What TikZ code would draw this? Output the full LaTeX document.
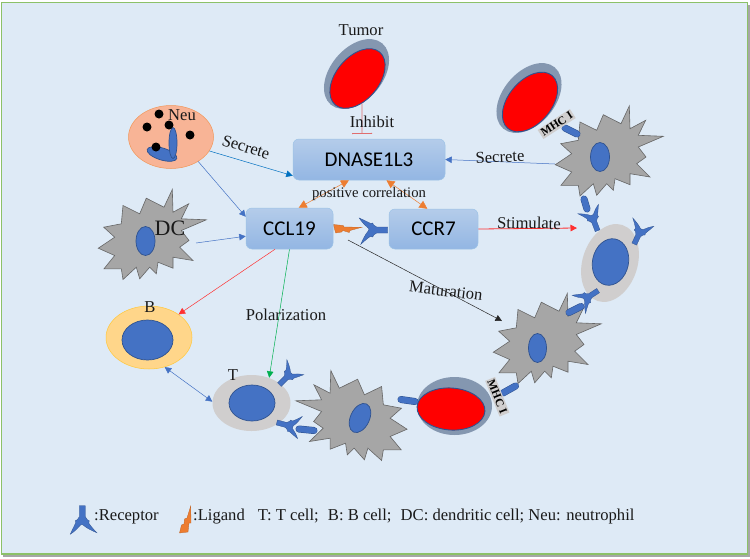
\documentclass[tikz,border=0pt]{standalone}
\usepackage{fontspec}
\setmainfont{Liberation Serif}
\newfontfamily\boxfont{Carlito}
\usetikzlibrary{arrows.meta,shapes.geometric}
\definecolor{bgblue}{HTML}{DEEAF6}
\definecolor{framegreen}{HTML}{8CC168}
\definecolor{nucblue}{HTML}{4472C4}
\definecolor{nucedge}{HTML}{2F528F}
\definecolor{cellgray}{HTML}{A6A6A6}
\definecolor{paleGray}{HTML}{D0CECE}
\definecolor{tumorshell}{HTML}{8497B0}
\definecolor{ligand}{HTML}{ED7D31}
\definecolor{boxtop}{HTML}{B4CCEA}
\definecolor{boxbot}{HTML}{93B6E3}
\definecolor{boxedge}{HTML}{9DC3E6}
\definecolor{neufill}{HTML}{F8B496}
\definecolor{bfill}{HTML}{FFD68A}
\definecolor{bedge}{HTML}{FFC83C}
\definecolor{secblue}{HTML}{0070C0}
\definecolor{arrowgreen}{HTML}{00B050}
\definecolor{inhibitred}{HTML}{E06E6E}
\definecolor{arrowred}{HTML}{FF3030}
\tikzset{
  x=1pt,y=-1pt,
  lbl/.style={font=\fontsize{16.6}{19}\selectfont,inner sep=0pt,text=black!90},
  bluebox/.style={rounded corners=6pt,top color=boxtop,bottom color=boxbot,
     draw=boxedge,line width=.5pt,inner sep=0pt,text=black,font=\boxfont\fontsize{21}{24}\selectfont},
  cell/.style={ellipse,inner sep=0pt,line width=.5pt},
  nucleus/.style={cell,fill=nucblue,draw=nucedge,line width=.7pt},
  shell/.style={cell,fill=tumorshell},
  tumorcore/.style={cell,fill=red,draw=nucedge,line width=.9pt},
  tip/.style={-{Triangle[length=6.5pt,width=6.5pt]}},
  tiptwo/.style={{Triangle[length=6.5pt,width=6.5pt]}-{Triangle[length=6.5pt,width=6.5pt]}},
  tipbig/.style={{Triangle[length=8pt,width=8pt]}-{Triangle[length=8pt,width=8pt]}},
  capsule/.style={line cap=round,draw=nucedge,double=nucblue,line width=.5pt,double distance=6pt},
  mhc/.style={fill=paleGray,inner sep=1.5pt,font=\bfseries\fontsize{11.5}{13}\selectfont,text=black},
  spiked/.pic={
    \draw[fill=cellgray,draw=gray!80!black,line width=.6pt]
      (29.3,-51)--(21,-33.3)--(3.3,-42.3)--(-3.3,-26.7)--(-20,-35)--(-21.7,-16.7)--(-39.3,-13.3)
      --(-28.3,-3.3)--(-44.7,7.7)--(-28.3,15)--(-39,28.3)--(-21.7,28.3)--(-20,39)--(-6.7,26.7)
      --(-3.3,38.3)--(6.7,26.7)--(13.3,33.3)--(15,21.7)--(30,27.7)--(30,16.7)--(50,20)
      --(36.7,6.7)--(46,0)--(38.3,-10)--(63.3,-20.7)--(38.3,-21.7)--(45.7,-36.7)--(30,-28.3)--cycle;
  },
  receptor/.pic={
    \fill[nucblue,draw=nucedge,line width=.3pt]
      (-3,-16)--(3,-16)--(3,-5)--(5,-2)--(7,-1)--(6.5,1.5)..controls (9,5) and (11.5,8) ..(14.5,11)
      ..controls (10,9) and (5,7) ..(1,3.5)..controls (0,2.5) and (-1,2.5) ..(-2,3.5)
      ..controls (-5,7) and (-8,10) ..(-12,12.5)
      ..controls (-10,8) and (-8,4) ..(-6.5,1)--(-7,-1)--(-5,-2)--(-3,-5)--cycle;
  },
}
\begin{document}
\begin{tikzpicture}
\useasboundingbox (0,0) rectangle (750,558);
\fill[white] (0,0) rectangle (750,558);
\fill[gray!70] (3,5) rectangle (749.5,557);
\fill[bgblue,draw=framegreen,line width=1.6pt] (1.5,2.5) rectangle (747.5,554);

% Spiked cells
\pic at (143,240.5) {spiked};
\pic at (600,157) {spiked};
\pic at (538,344.5) {spiked};
\pic[xscale=-1.03] at (361,421.5) {spiked};

% Cells
\node[cell,fill=neufill,draw=ligand!80,minimum width=85pt,minimum height=63pt] (neu) at (171,137) {};
\node[nucleus,minimum width=31pt,minimum height=12pt,rotate=-17] (neuA) at (162,154) {};
\node[nucleus,minimum width=8pt,minimum height=31pt] (neuB) at (173,143) {};
\foreach \p in {(159,114),(147,127),(169,125),(190,135),(156,147)}
  \fill[black] \p circle (4.5pt);

\node[nucleus,minimum width=19pt,minimum height=29pt] (dcnuc) at (145.5,241) {};
\node[nucleus,minimum width=19pt,minimum height=29pt] (apcAnuc) at (600,157) {};
\node[nucleus,minimum width=18pt,minimum height=29pt] (apcBnuc) at (537.5,348) {};
\node[nucleus,minimum width=19pt,minimum height=31pt,rotate=-25] (apcCnuc) at (360,418) {};

\node[cell,fill=bfill,draw=bedge,minimum width=86pt,minimum height=63pt] (bcell) at (149,337.5) {};
\node[nucleus,minimum width=51pt,minimum height=40pt] (bnuc) at (147.5,340) {};

\node[cell,fill=paleGray,minimum width=78pt,minimum height=56pt] (tcell) at (251.5,403) {};
\node[nucleus,minimum width=46pt,minimum height=36pt] (tnuc) at (252,403) {};

\node[cell,fill=paleGray,minimum width=80pt,minimum height=55pt,rotate=72] (apc) at (610,263) {};
\node[nucleus,minimum width=47pt,minimum height=36pt,rotate=78] (apcnuc) at (610.5,262) {};

% Tumors
\node[shell,minimum width=80pt,minimum height=52pt,rotate=50] (tumorA) at (356.5,74) {};
\node[tumorcore,minimum width=69pt,minimum height=43pt,rotate=50] (coreA) at (357.5,78.5) {};
\node[shell,minimum width=80pt,minimum height=52pt,rotate=50] (tumorB) at (529,98) {};
\node[tumorcore,minimum width=69pt,minimum height=43pt,rotate=50] (coreB) at (530,102) {};
\node[shell,minimum width=75pt,minimum height=58pt] (tumorC) at (454.5,406) {};
\node[tumorcore,minimum width=68pt,minimum height=42pt,rotate=-4] (coreC) at (451,409) {};

% Capsules
\draw[capsule] (565,128)--(577,134);
\draw[capsule] (584,199)--(587,209);
\draw[capsule] (569,312.5)--(581,306.5);
\draw[capsule] (503,393)--(515.5,386);
\draw[capsule] (401,399.5)--(415,401.5);
\draw[capsule] (299,429)--(314,430.5);

% Receptors
\pic[rotate=-90] at (371.7,230) {receptor};
\pic[rotate=-159,scale=.85] at (592.7,218) {receptor};
\pic[rotate=155,scale=.85] at (640,231.7) {receptor};
\pic[rotate=-57,scale=.85] at (586.7,298) {receptor};
\pic[rotate=135,scale=.85] at (289,375) {receptor};
\pic[rotate=75,scale=.85] at (290,426) {receptor};
\pic at (82.3,521.7) {receptor};

% Ligands
\fill[ligand,draw=ligand!80!black,line width=.3pt]
  (333.3,224.5)--(343.3,225.5)--(344,227)--(361.7,227.3)--(350,230.5)--(349.3,232.5)--(342.7,230.5)--(341.7,232)--(335.7,233)--cycle;
\fill[ligand,draw=ligand!80!black,line width=.3pt]
  (190.7,506)--(191,523)--(189,523)--(188,532)--(179.5,533)--(181.5,525)--(184,524)--(184.5,519)--(187,518)--cycle;

% Boxes
\node[bluebox,minimum width=152pt,minimum height=41pt] (dnase) at (369,159.5) {DNASE1L3};
\node[bluebox,minimum width=87pt,minimum height=41pt] (ccl) at (289.5,228.5) {CCL19};
\node[bluebox,minimum width=89pt,minimum height=40pt] (ccr) at (433.5,229) {CCR7};

% Free ends
\coordinate (stimEnd) at (577,228);
\coordinate (matStart) at (348,240);
\coordinate (matEnd) at (502,321);
\coordinate (inhEnd) at (362,134);
\coordinate (dcEnd) at (196,243);
\coordinate (apcEnd) at (555,164);

% Connectors
\draw[tip,secblue,line width=.5pt] (neu.340)--(dnase.192);
\draw[tip,nucblue,line width=.5pt] (neu.-42)--(ccl.165);
\draw[tip,nucblue,line width=.5pt] (dcEnd)--(ccl.190);
\draw[tip,nucblue,line width=.5pt] (apcEnd)--(dnase.east);
\draw[tip,arrowred,line width=.8pt] (ccr.east)--(stimEnd);
\draw[tip,arrowred,line width=.5pt] (ccl.-125)--(bcell.38);
\draw[tip,arrowgreen,line width=.5pt] (ccl.-90)--(tcell.55);
\draw[tip,black!85,line width=.5pt] (matStart)--(matEnd);
\draw[tiptwo,nucblue,line width=.5pt] (bcell.-62)--(tcell.178);
\draw[-{Bar[width=20pt,length=1pt]},inhibitred,line width=.8pt] (coreA.-130)--(inhEnd);
\draw[tipbig,ligand,line width=.5pt] (dnase.-134)--(ccl.66);
\draw[tipbig,ligand,line width=.5pt] (dnase.-50)--(ccr.107);

% Labels
\node[lbl] (tTumor) at (361,30) {Tumor};
\node[lbl] (tInhibit) at (372,122) {Inhibit};
\node[lbl] (tNeu) at (182,115) {Neu};
\node[lbl,rotate=-17] (tSecA) at (246,147) {Secrete};
\node[lbl,font=\fontsize{22}{25}\selectfont] (tDC) at (170,228) {DC};
\node[lbl,font=\fontsize{14.7}{17}\selectfont] (tPos) at (369,194) {positive correlation};
\node[lbl,rotate=3] (tSecB) at (500,157) {Secrete};
\node[lbl,rotate=-1] (tStim) at (529,223) {Stimulate};
\node[lbl,rotate=-7] (tMat) at (446,291) {Maturation};
\node[lbl] (tPol) at (286,315) {Polarization};
\node[lbl] (tB) at (150,307) {B};
\node[lbl] (tT) at (233,375) {T};
\node[mhc,rotate=33] (mhcA) at (556.7,124) {MHC I};
\node[mhc,rotate=-68] (mhcB) at (497.3,396.7) {MHC I};
\node[lbl,anchor=west] (legR) at (94,517) {:Receptor};
\node[lbl,anchor=west] (legL) at (193,517) {:Ligand\hspace{13pt}T: T cell;\hspace{5pt} B: B cell;\hspace{5pt} DC: dendritic cell; Neu: neutrophil};
\end{tikzpicture}
\end{document}
